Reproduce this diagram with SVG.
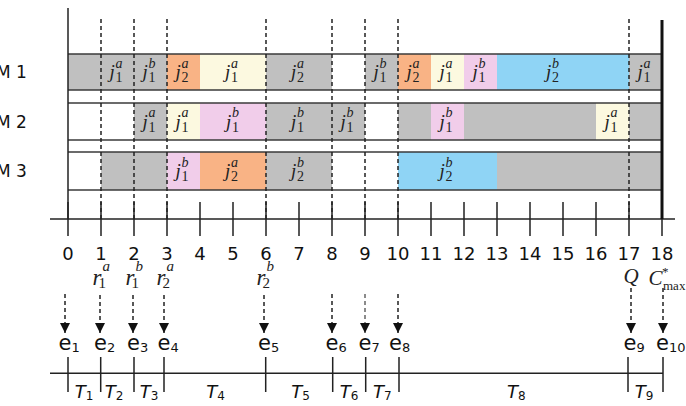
<svg xmlns="http://www.w3.org/2000/svg" width="686" height="406" viewBox="0 0 686 406">
<defs>
<style>
.sans{font-family:"DejaVu Sans",Verdana,sans-serif;fill:#111}
.num{font-size:18px;text-anchor:middle}
.m{font-size:17px}
.ser{font-family:"Liberation Serif","Times New Roman",serif;fill:#222}
.jj{font-style:italic;font-size:19px}
.sp{font-style:italic;font-size:14px}
.sb{font-size:14px}
.gy{fill:#c0c0c0}.or{fill:#f9b385}.cr{fill:#fcf9e0}.pk{fill:#f1cdea}.bl{fill:#8fd4f5}
.bd{stroke:#3a3a3a;stroke-width:1.6;fill:none}
.vd{stroke:#222;stroke-width:1.5;stroke-dasharray:4 3;fill:none}
.ax{stroke:#222;stroke-width:1.5;fill:none}
.arr{stroke:#222;stroke-width:1.5;stroke-dasharray:4 3;fill:none;marker-end:url(#ah)}
.ev{font-size:21px}
.evs{font-size:13px}
.tl{font-size:18px;font-style:italic}
.tls{font-size:12px;font-style:normal}
.rr{font-style:italic;font-size:23px}
.rs{font-style:italic;font-size:15px}
.rn{font-size:15px}
</style>
<marker id="ah" markerUnits="userSpaceOnUse" markerWidth="10" markerHeight="10" refX="10" refY="5" orient="auto">
<path d="M0,0 L10,5 L0,10 z" fill="#111"/>
</marker>
</defs>
<rect width="686" height="406" fill="#fff"/>

<g id="M1">
<rect class="gy" x="68" y="54" width="99" height="36"/>
<rect class="or" x="167" y="54" width="33" height="36"/>
<rect class="cr" x="200" y="54" width="66" height="36"/>
<rect class="gy" x="266" y="54" width="66" height="36"/>
<rect class="gy" x="365" y="54" width="33" height="36"/>
<rect class="or" x="398" y="54" width="33" height="36"/>
<rect class="cr" x="431" y="54" width="33" height="36"/>
<rect class="pk" x="464" y="54" width="33" height="36"/>
<rect class="bl" x="497" y="54" width="132" height="36"/>
<rect class="gy" x="629" y="54" width="33" height="36"/>
<line class="bd" x1="68" y1="54" x2="662" y2="54"/>
<line class="bd" x1="68" y1="90" x2="662" y2="90"/>
<text class="sans m" x="-4" y="78">M 1</text>
<text class="ser"><tspan class="jj" x="109.5" y="78">j</tspan><tspan class="sp" x="115.5" y="67.5">a</tspan><tspan class="sb" x="115.5" y="82">1</tspan></text>
<text class="ser"><tspan class="jj" x="142.5" y="78">j</tspan><tspan class="sp" x="148.5" y="67.5">b</tspan><tspan class="sb" x="148.5" y="82">1</tspan></text>
<text class="ser"><tspan class="jj" x="175.5" y="78">j</tspan><tspan class="sp" x="181.5" y="67.5">a</tspan><tspan class="sb" x="181.5" y="82">2</tspan></text>
<text class="ser"><tspan class="jj" x="225" y="78">j</tspan><tspan class="sp" x="231" y="67.5">a</tspan><tspan class="sb" x="231" y="82">1</tspan></text>
<text class="ser"><tspan class="jj" x="291" y="78">j</tspan><tspan class="sp" x="297" y="67.5">a</tspan><tspan class="sb" x="297" y="82">2</tspan></text>
<text class="ser"><tspan class="jj" x="373.5" y="78">j</tspan><tspan class="sp" x="379.5" y="67.5">b</tspan><tspan class="sb" x="379.5" y="82">1</tspan></text>
<text class="ser"><tspan class="jj" x="406.5" y="78">j</tspan><tspan class="sp" x="412.5" y="67.5">a</tspan><tspan class="sb" x="412.5" y="82">2</tspan></text>
<text class="ser"><tspan class="jj" x="439.5" y="78">j</tspan><tspan class="sp" x="445.5" y="67.5">a</tspan><tspan class="sb" x="445.5" y="82">1</tspan></text>
<text class="ser"><tspan class="jj" x="472.5" y="78">j</tspan><tspan class="sp" x="478.5" y="67.5">b</tspan><tspan class="sb" x="478.5" y="82">1</tspan></text>
<text class="ser"><tspan class="jj" x="546" y="78">j</tspan><tspan class="sp" x="552" y="67.5">b</tspan><tspan class="sb" x="552" y="82">2</tspan></text>
<text class="ser"><tspan class="jj" x="637.5" y="78">j</tspan><tspan class="sp" x="643.5" y="67.5">a</tspan><tspan class="sb" x="643.5" y="82">1</tspan></text>
</g>

<g id="M2">
<rect class="gy" x="134" y="103" width="33" height="37"/>
<rect class="cr" x="167" y="103" width="33" height="37"/>
<rect class="pk" x="200" y="103" width="66" height="37"/>
<rect class="gy" x="266" y="103" width="99" height="37"/>
<rect class="gy" x="398" y="103" width="33" height="37"/>
<rect class="pk" x="431" y="103" width="33" height="37"/>
<rect class="gy" x="464" y="103" width="132" height="37"/>
<rect class="cr" x="596" y="103" width="33" height="37"/>
<rect class="gy" x="629" y="103" width="33" height="37"/>
<line class="bd" x1="68" y1="103" x2="662" y2="103"/>
<line class="bd" x1="68" y1="140" x2="662" y2="140"/>
<text class="sans m" x="-4" y="127.5">M 2</text>
<text class="ser"><tspan class="jj" x="142.5" y="127.5">j</tspan><tspan class="sp" x="148.5" y="117">a</tspan><tspan class="sb" x="148.5" y="131.5">1</tspan></text>
<text class="ser"><tspan class="jj" x="175.5" y="127.5">j</tspan><tspan class="sp" x="181.5" y="117">a</tspan><tspan class="sb" x="181.5" y="131.5">1</tspan></text>
<text class="ser"><tspan class="jj" x="226" y="127.5">j</tspan><tspan class="sp" x="232" y="117">b</tspan><tspan class="sb" x="232" y="131.5">1</tspan></text>
<text class="ser"><tspan class="jj" x="291" y="127.5">j</tspan><tspan class="sp" x="297" y="117">b</tspan><tspan class="sb" x="297" y="131.5">1</tspan></text>
<text class="ser"><tspan class="jj" x="340.5" y="127.5">j</tspan><tspan class="sp" x="346.5" y="117">b</tspan><tspan class="sb" x="346.5" y="131.5">1</tspan></text>
<text class="ser"><tspan class="jj" x="439.5" y="127.5">j</tspan><tspan class="sp" x="445.5" y="117">b</tspan><tspan class="sb" x="445.5" y="131.5">1</tspan></text>
<text class="ser"><tspan class="jj" x="604.5" y="127.5">j</tspan><tspan class="sp" x="610.5" y="117">a</tspan><tspan class="sb" x="610.5" y="131.5">1</tspan></text>
</g>

<g id="M3">
<rect class="gy" x="101" y="152" width="66" height="38"/>
<rect class="pk" x="167" y="152" width="33" height="38"/>
<rect class="or" x="200" y="152" width="66" height="38"/>
<rect class="gy" x="266" y="152" width="66" height="38"/>
<rect class="bl" x="398" y="152" width="99" height="38"/>
<rect class="gy" x="497" y="152" width="165" height="38"/>
<line class="bd" x1="68" y1="152" x2="662" y2="152"/>
<line class="bd" x1="68" y1="190" x2="662" y2="190"/>
<text class="sans m" x="-4" y="177">M 3</text>
<text class="ser"><tspan class="jj" x="175.5" y="177">j</tspan><tspan class="sp" x="181.5" y="166.5">b</tspan><tspan class="sb" x="181.5" y="181">1</tspan></text>
<text class="ser"><tspan class="jj" x="225" y="177">j</tspan><tspan class="sp" x="231" y="166.5">a</tspan><tspan class="sb" x="231" y="181">2</tspan></text>
<text class="ser"><tspan class="jj" x="291" y="177">j</tspan><tspan class="sp" x="297" y="166.5">b</tspan><tspan class="sb" x="297" y="181">2</tspan></text>
<text class="ser"><tspan class="jj" x="439.5" y="177">j</tspan><tspan class="sp" x="445.5" y="166.5">b</tspan><tspan class="sb" x="445.5" y="181">2</tspan></text>
</g>

<g id="time-axis">
<line class="ax" x1="68" y1="8" x2="68" y2="219"/>
<line class="ax" x1="50" y1="219" x2="675" y2="219"/>
<path class="ax" d="M68,202V236M101,202V236M134,202V236M167,202V236M200,202V236M233,202V236M266,202V236M299,202V236M332,202V236M365,202V236M398,202V236M431,202V236M464,202V236M497,202V236M530,202V236M563,202V236M596,202V236M629,202V236M662,202V236"/>
<path class="vd" d="M101,19V219M134,19V219M167,19V219M266,19V219M332,19V219M365,19V219M398,19V219M629,19V219"/>
<line x1="662" y1="20" x2="662" y2="219" stroke="#111" stroke-width="3"/>
<g class="sans num">
<text x="68" y="260">0</text><text x="101" y="260">1</text><text x="134" y="260">2</text><text x="167" y="260">3</text><text x="200" y="260">4</text><text x="233" y="260">5</text><text x="266" y="260">6</text><text x="299" y="260">7</text><text x="332" y="260">8</text><text x="365" y="260">9</text><text x="398" y="260">10</text><text x="431" y="260">11</text><text x="464" y="260">12</text><text x="497" y="260">13</text><text x="530" y="260">14</text><text x="563" y="260">15</text><text x="596" y="260">16</text><text x="629" y="260">17</text><text x="662" y="260">18</text>
</g>
</g>

<g id="release-labels">
<text class="ser"><tspan class="rr" x="92.5" y="285">r</tspan><tspan class="rs" x="102.5" y="271">a</tspan><tspan class="rn" x="98.5" y="288">1</tspan></text>
<text class="ser"><tspan class="rr" x="125.5" y="285">r</tspan><tspan class="rs" x="135.5" y="271">b</tspan><tspan class="rn" x="131.5" y="288">1</tspan></text>
<text class="ser"><tspan class="rr" x="156.5" y="285">r</tspan><tspan class="rs" x="166.5" y="271">a</tspan><tspan class="rn" x="162.5" y="288">2</tspan></text>
<text class="ser"><tspan class="rr" x="256.5" y="285">r</tspan><tspan class="rs" x="266.5" y="271">b</tspan><tspan class="rn" x="262.5" y="288">2</tspan></text>
<text class="ser" x="631" y="283" text-anchor="middle" font-style="italic" font-size="21">Q</text>
<text class="ser"><tspan x="648.5" y="285" font-style="italic" font-size="21">C</tspan><tspan x="662" y="276" font-size="13">*</tspan><tspan x="663" y="290" font-size="13">max</tspan></text>
</g>

<g id="connectors">
<line class="arr" x1="65" y1="294" x2="65" y2="333"/>
<line class="arr" x1="100" y1="295" x2="100" y2="333"/>
<line class="arr" x1="133" y1="295" x2="133" y2="333"/>
<line class="arr" x1="164" y1="295" x2="164" y2="333"/>
<line class="arr" x1="264" y1="295" x2="264" y2="333"/>
<line class="arr" x1="332" y1="294" x2="332" y2="333"/>
<line class="arr" x1="365" y1="294" x2="365" y2="333" stroke-opacity="0.7"/>
<line class="arr" x1="398" y1="294" x2="398" y2="333"/>
<line class="arr" x1="631" y1="288" x2="631" y2="333"/>
<line class="arr" x1="663" y1="288" x2="663" y2="333"/>
</g>

<g id="events" class="sans">
<text class="ev" x="58.5" y="350">e<tspan class="evs" dy="2">1</tspan></text>
<text class="ev" x="94" y="350">e<tspan class="evs" dy="2">2</tspan></text>
<text class="ev" x="127" y="350">e<tspan class="evs" dy="2">3</tspan></text>
<text class="ev" x="157.5" y="350">e<tspan class="evs" dy="2">4</tspan></text>
<text class="ev" x="258" y="350">e<tspan class="evs" dy="2">5</tspan></text>
<text class="ev" x="325.5" y="350">e<tspan class="evs" dy="2">6</tspan></text>
<text class="ev" x="358.5" y="350">e<tspan class="evs" dy="2">7</tspan></text>
<text class="ev" x="389" y="350">e<tspan class="evs" dy="2">8</tspan></text>
<text class="ev" x="623.5" y="350">e<tspan class="evs" dy="2">9</tspan></text>
<text class="ev" x="656" y="350">e<tspan class="evs" dy="2">10</tspan></text>
</g>

<g id="intervals" class="sans">
<line class="ax" x1="50" y1="373.3" x2="663" y2="373.3"/>
<path class="ax" d="M68,357V392M100.7,357V392M134,357V392M164,357V392M265.7,357V392M332.7,357V392M365.7,357V392M399,357V392M628,357V392M663,357V392"/>
<text class="tl" x="74.7" y="398">T<tspan class="tls" dy="2">1</tspan></text>
<text class="tl" x="104.7" y="398">T<tspan class="tls" dy="2">2</tspan></text>
<text class="tl" x="139.7" y="398">T<tspan class="tls" dy="2">3</tspan></text>
<text class="tl" x="206.3" y="398">T<tspan class="tls" dy="2">4</tspan></text>
<text class="tl" x="291.3" y="398">T<tspan class="tls" dy="2">5</tspan></text>
<text class="tl" x="339.7" y="398">T<tspan class="tls" dy="2">6</tspan></text>
<text class="tl" x="373" y="398">T<tspan class="tls" dy="2">7</tspan></text>
<text class="tl" x="507" y="398">T<tspan class="tls" dy="2">8</tspan></text>
<text class="tl" x="634.7" y="398">T<tspan class="tls" dy="2">9</tspan></text>
</g>
</svg>
